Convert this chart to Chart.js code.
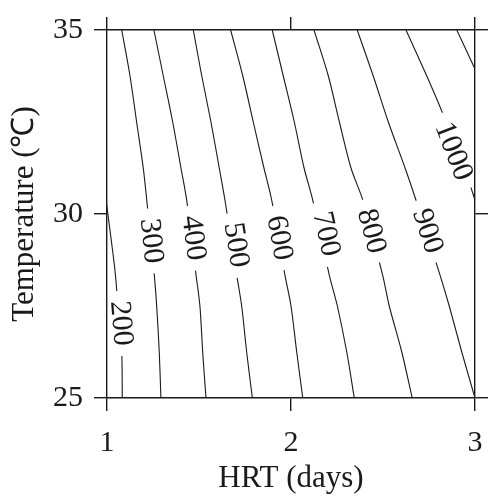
<!DOCTYPE html>
<html>
<head>
<meta charset="utf-8">
<script src="https://cdn.jsdelivr.net/npm/chart.js@4.4.1/dist/chart.umd.min.js"></script>
<style>
  html, body { margin: 0; padding: 0; background: #fff; }
</style>
</head>
<body>
<canvas id="chart" width="489" height="497"></canvas>
<script>
// temperature rows (°C) where the contours were read
const tempRows = [25, 26.25, 27.5, 28.34, 30.38, 31.25, 32.5, 33.75, 35];

// HRT (days) of each contour at those rows
const hrt300 = [1.293, 1.284, 1.270, 1.257, 1.216, 1.197, 1.161, 1.125, 1.080];
const hrt400 = [1.538, 1.520, 1.505, 1.484, 1.433, 1.402, 1.357, 1.306, 1.255];
const hrt500 = [1.790, 1.759, 1.732, 1.705, 1.641, 1.610, 1.565, 1.515, 1.469];
const hrt600 = [2.064, 2.031, 2.000, 1.967, 1.895, 1.853, 1.795, 1.738, 1.672];
const hrt700 = [2.344, 2.303, 2.252, 2.208, 2.118, 2.071, 2.018, 1.958, 1.898];
const hrt800 = [2.659, 2.602, 2.534, 2.498, 2.390, 2.326, 2.263, 2.203, 2.125];
const hrt900 = [3.000, 2.928, 2.860, 2.810, 2.679, 2.620, 2.529, 2.447, 2.360];

// contours that leave the frame through a side
const temp200 = [25, 26.25, 27.5, 28.48, 30.11, 31.25];
const hrt200 = [1.083, 1.080, 1.060, 1.043, 1.002, 0.972];
const temp1000 = [29.89, 30.38, 30.92, 32.74, 33.75, 35];
const hrt1000 = [3.033, 3.000, 2.964, 2.824, 2.738, 2.625];
const temp1100 = [33.07, 33.94, 35];
const hrt1100 = [3.082, 3.000, 2.901];

// contour label positions
const labelLevels = [200, 300, 400, 500, 600, 700, 800, 900, 1000];
const labelHRT = [1.080, 1.243, 1.473, 1.705, 1.940, 2.194, 2.440, 2.745, 2.886];
const labelTemp = [27.03, 29.27, 29.35, 29.16, 29.35, 29.46, 29.54, 29.54, 31.71];

const xTicks = [1, 2, 3];
const yTicks = [25, 30, 35];

const contours = {
  200: { t: temp200, h: hrt200 },
  300: { t: tempRows, h: hrt300 },
  400: { t: tempRows, h: hrt400 },
  500: { t: tempRows, h: hrt500 },
  600: { t: tempRows, h: hrt600 },
  700: { t: tempRows, h: hrt700 },
  800: { t: tempRows, h: hrt800 },
  900: { t: tempRows, h: hrt900 },
  1000: { t: temp1000, h: hrt1000 },
  1100: { t: temp1100, h: hrt1100 },
};

const FONT = '"Liberation Serif", "Times New Roman", serif';
const INK = '#1a1a1a';

const datasets = Object.keys(contours).map(lv => ({
  label: lv,
  data: contours[lv].t.map((t, i) => ({ x: contours[lv].h[i], y: t })),
  showLine: true,
  borderColor: INK,
  borderWidth: 1.1,
  pointRadius: 0,
  tension: 0.3,
}));

// labels sit on the contour, rotated along it, with a gap cut in the line
const contourLabels = {
  id: 'contourLabels',
  afterDatasetsDraw(chart) {
    const { ctx, chartArea: a, scales: { x, y } } = chart;
    ctx.save();
    ctx.beginPath();
    ctx.rect(a.left + 1, a.top + 1, a.width - 2, a.height - 2);
    ctx.clip();
    ctx.font = '30px ' + FONT;
    ctx.textAlign = 'center';
    ctx.textBaseline = 'middle';
    labelLevels.forEach((lv, i) => {
      const c = contours[lv];
      let k = 0;
      while (k < c.t.length - 2 && c.t[k + 1] < labelTemp[i]) k++;
      const dx = x.getPixelForValue(c.h[k]) - x.getPixelForValue(c.h[k + 1]);
      const dy = y.getPixelForValue(c.t[k]) - y.getPixelForValue(c.t[k + 1]);
      const ang = Math.atan2(dy, dx);
      const text = String(lv);
      const w = ctx.measureText(text).width;
      ctx.save();
      ctx.translate(x.getPixelForValue(labelHRT[i]), y.getPixelForValue(labelTemp[i]));
      ctx.rotate(ang);
      ctx.fillStyle = '#fff';
      ctx.fillRect(-w / 2 - 10, -12, w + 20, 24);
      ctx.fillStyle = INK;
      ctx.fillText(text, 0, 1);
      ctx.restore();
    });
    ctx.restore();
  }
};

const grid = { display: true, drawOnChartArea: false, drawTicks: true, tickLength: 13, color: INK, lineWidth: 1.4 };
const border = { display: true, color: INK, width: 1.4 };

function fitBox(size) {
  return s => {
    if (s.isHorizontal()) s.height = size; else s.width = size;
    s.paddingLeft = s.paddingRight = s.paddingTop = s.paddingBottom = 0;
  };
}

new Chart(document.getElementById('chart'), {
  type: 'scatter',
  data: { datasets },
  options: {
    responsive: false,
    animation: false,
    devicePixelRatio: 1,
    events: [],
    layout: { padding: 0 },
    plugins: { legend: { display: false }, tooltip: { enabled: false } },
    scales: {
      x: {
        type: 'linear', position: 'bottom', min: 1, max: 3,
        afterBuildTicks: s => { s.ticks = xTicks.map(v => ({ value: v })); },
        afterFit: fitBox(99),
        grid, border,
        ticks: { color: INK, padding: 14, font: { family: FONT, size: 30 } },
        title: { display: true, text: 'HRT (days)', color: INK, padding: 0, font: { family: FONT, size: 31 } },
      },
      x2: {
        type: 'linear', axis: 'x', position: 'top', min: 1, max: 3,
        afterBuildTicks: s => { s.ticks = xTicks.map(v => ({ value: v })); },
        afterFit: fitBox(30),
        grid, border,
        ticks: { display: false },
      },
      y: {
        type: 'linear', position: 'left', min: 25, max: 35,
        afterBuildTicks: s => { s.ticks = yTicks.map(v => ({ value: v })); },
        afterFit: fitBox(107),
        grid, border,
        ticks: { color: INK, padding: 11, font: { family: FONT, size: 30 } },
        title: { display: true, text: 'Temperature (℃)', color: INK, padding: { top: 6, bottom: 0 }, font: { family: FONT, size: 31 } },
      },
      y2: {
        type: 'linear', axis: 'y', position: 'right', min: 25, max: 35,
        afterBuildTicks: s => { s.ticks = yTicks.map(v => ({ value: v })); },
        afterFit: fitBox(14),
        grid, border,
        ticks: { display: false },
      },
    },
  },
  plugins: [contourLabels],
});
</script>
</body>
</html>
